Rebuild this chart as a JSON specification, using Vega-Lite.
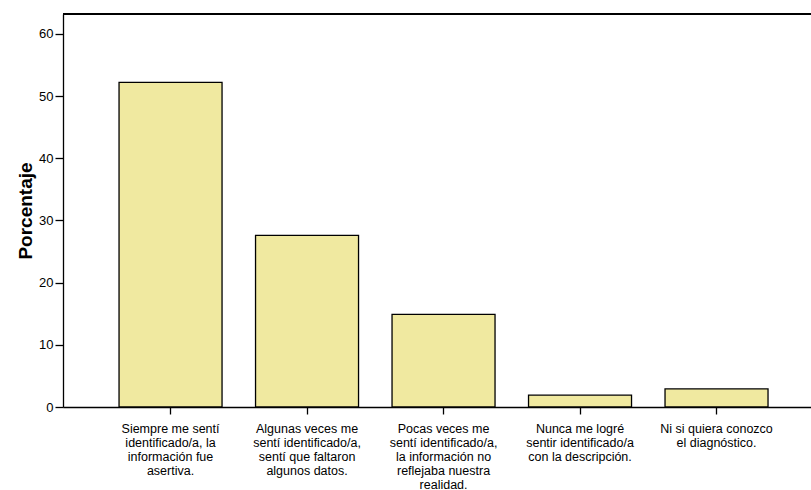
{
  "$schema": "https://vega.github.io/schema/vega-lite/v6.json",
  "autosize": "none",
  "width": 748,
  "height": 393,
  "padding": {"left": 63, "top": 14, "right": 0, "bottom": 83},
  "background": "white",
  "config": {
    "view": {"stroke": null},
    "font": "Liberation Sans",
    "axis": {"domainColor": "black", "tickColor": "black", "labelColor": "black", "titleColor": "black", "grid": false, "domainWidth": 1.3, "tickWidth": 1.3}
  },
  "data": {
    "values": [
      {"cat": "Siempre me sentí|identificado/a, la|información fue|asertiva.", "pct": 52.2},
      {"cat": "Algunas veces me|sentí identificado/a,|sentí que faltaron|algunos datos.", "pct": 27.6},
      {"cat": "Pocas veces me|sentí identificado/a,|la información no|reflejaba nuestra|realidad.", "pct": 14.9},
      {"cat": "Nunca me logré|sentir identificado/a|con la descripción.", "pct": 1.9},
      {"cat": "Ni si quiera conozco|el diagnóstico.", "pct": 2.9}
    ]
  },
  "layer": [
    {
      "mark": {"type": "bar", "fill": "#F0E9A0", "stroke": "black", "strokeWidth": 1.3},
      "encoding": {
        "x": {
          "field": "cat", "type": "nominal", "sort": null,
          "scale": {"paddingInner": 0.2454, "paddingOuter": 0.3627, "align": 0.566},
          "axis": {
            "title": null, "labelAngle": 0, "tickSize": 7, "labelPadding": 8,
            "labelFontSize": 12.5, "labelLineHeight": 14, "labelLimit": 200,
            "labelExpr": "split(datum.value, '|')"
          }
        },
        "y": {
          "field": "pct", "type": "quantitative",
          "scale": {"domain": [0, 63.2], "nice": false, "zero": true},
          "axis": {
            "title": "Porcentaje", "titleFontSize": 19, "titleFontWeight": "bold", "titlePadding": 3,
            "values": [0, 10, 20, 30, 40, 50, 60], "tickSize": 8, "labelPadding": 2, "labelFontSize": 13
          }
        }
      }
    },
    {
      "mark": {"type": "rule", "color": "black", "strokeWidth": 1.3},
      "encoding": {"y": {"datum": 63.2}}
    }
  ]
}
